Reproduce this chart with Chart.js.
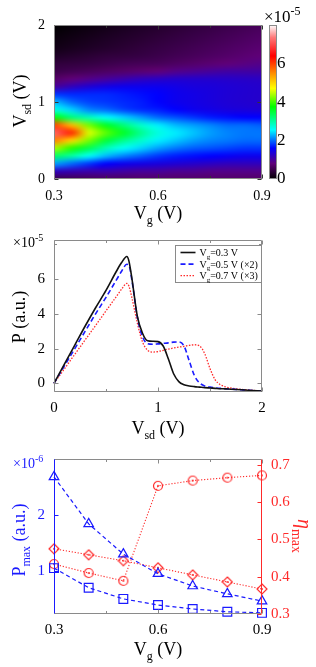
<!DOCTYPE html>
<html>
<head>
<meta charset="utf-8">
<script src="https://cdn.jsdelivr.net/npm/chart.js@4.4.1/dist/chart.umd.min.js"></script>
<style>
  body { margin: 0; background: #fff; }
  canvas { position: absolute; left: 0; }
</style>
</head>
<body>
<canvas id="c1" width="316" height="232" style="top:0"></canvas>
<canvas id="c2" width="316" height="225" style="top:222px"></canvas>
<canvas id="c3" width="316" height="230" style="top:437px"></canvas>
<script>
// ---------- panel 1: P map (x1e-5), one column per Vg, rows Vsd = 0..2 step 0.1
const mapVg = [0.3, 0.35, 0.4, 0.45, 0.5, 0.55, 0.6, 0.65, 0.7, 0.75, 0.8, 0.85, 0.9];
const mapVsd = [0, 0.1, 0.2, 0.3, 0.4, 0.5, 0.6, 0.7, 0.8, 0.9, 1.0, 1.1, 1.2, 1.3, 1.4, 1.5, 1.6, 1.7, 1.8, 1.9, 2.0];
const pVg030 = [0.5, 1.2, 2.2, 3.3, 4.4, 5.6, 7.2, 6.0, 3.8, 2.7, 2.3, 1.8, 1.0, 0.7, 0.5, 0.4, 0.25, 0.15, 0.1, 0.05, 0.0];
const pVg035 = [0.55, 1.15, 2.0, 3.0, 3.9, 5.0, 6.2, 5.2, 3.2, 2.4, 2.0, 1.75, 1.2, 0.8, 0.55, 0.42, 0.3, 0.2, 0.15, 0.1, 0.05];
const pVg040 = [0.6, 1.1, 1.8, 2.6, 3.4, 4.2, 4.6, 4.2, 2.9, 2.1, 1.85, 1.75, 1.35, 0.9, 0.6, 0.45, 0.35, 0.25, 0.2, 0.15, 0.1];
const pVg045 = [0.65, 1.1, 1.6, 2.3, 2.9, 3.5, 4.1, 3.6, 2.6, 2.0, 1.8, 1.75, 1.45, 1.0, 0.65, 0.5, 0.4, 0.3, 0.25, 0.2, 0.15];
const pVg050 = [0.65, 1.05, 1.5, 2.1, 2.6, 3.1, 3.6, 3.2, 2.4, 1.85, 1.75, 1.7, 1.5, 1.1, 0.7, 0.55, 0.42, 0.35, 0.3, 0.25, 0.2];
const pVg055 = [0.7, 1.0, 1.45, 1.95, 2.4, 2.8, 3.1, 2.8, 2.2, 1.75, 1.7, 1.65, 1.5, 1.2, 0.75, 0.58, 0.45, 0.4, 0.35, 0.3, 0.25];
const pVg060 = [0.7, 1.0, 1.4, 1.8, 2.2, 2.5, 2.7, 2.5, 2.0, 1.7, 1.6, 1.6, 1.5, 1.25, 0.8, 0.6, 0.5, 0.45, 0.4, 0.35, 0.3];
const pVg065 = [0.7, 0.95, 1.35, 1.7, 2.05, 2.35, 2.5, 2.3, 1.9, 1.6, 1.5, 1.5, 1.45, 1.3, 0.9, 0.65, 0.55, 0.5, 0.45, 0.4, 0.35];
const pVg070 = [0.7, 0.95, 1.3, 1.65, 1.95, 2.2, 2.35, 2.2, 1.8, 1.5, 1.45, 1.45, 1.4, 1.3, 0.95, 0.7, 0.6, 0.55, 0.5, 0.45, 0.4];
const pVg075 = [0.7, 0.9, 1.25, 1.6, 1.9, 2.1, 2.2, 2.1, 1.7, 1.45, 1.4, 1.4, 1.38, 1.3, 1.0, 0.75, 0.65, 0.6, 0.55, 0.5, 0.45];
const pVg080 = [0.7, 0.9, 1.2, 1.55, 1.85, 2.05, 2.1, 2.0, 1.65, 1.4, 1.35, 1.35, 1.35, 1.28, 1.05, 0.8, 0.7, 0.65, 0.6, 0.55, 0.5];
const pVg085 = [0.7, 0.9, 1.2, 1.5, 1.8, 2.0, 2.05, 2.0, 1.6, 1.38, 1.32, 1.32, 1.32, 1.26, 1.05, 0.85, 0.75, 0.7, 0.65, 0.6, 0.55];
const pVg090 = [0.7, 0.9, 1.2, 1.5, 1.8, 2.0, 2.05, 1.95, 1.6, 1.35, 1.3, 1.3, 1.3, 1.25, 1.05, 0.9, 0.8, 0.75, 0.7, 0.65, 0.6];
const mapCols = [pVg030, pVg035, pVg040, pVg045, pVg050, pVg055, pVg060, pVg065, pVg070, pVg075, pVg080, pVg085, pVg090];
const cbTicks = [0, 2, 4, 6];

// ---------- panel 2: P vs Vsd (x1e-5)
const vsd = [0, 0.1, 0.2, 0.3, 0.4, 0.5, 0.6, 0.65, 0.7, 0.72, 0.75, 0.8, 0.85, 0.9, 0.95, 1.0, 1.05, 1.1, 1.15, 1.2, 1.25, 1.3, 1.35, 1.4, 1.45, 1.5, 1.55, 1.6, 1.65, 1.7, 1.8, 1.9, 2.0];
const pVg03 = [0, 1.1, 2.2, 3.3, 4.35, 5.35, 6.45, 6.95, 7.3, 7.05, 6.0, 3.9, 2.9, 2.45, 2.42, 2.4, 2.15, 1.4, 0.55, 0.1, -0.08, -0.15, -0.19, -0.22, -0.25, -0.27, -0.29, -0.31, -0.32, -0.34, -0.37, -0.41, -0.45];
const pVg05x2 = [0, 1.0, 2.0, 3.0, 4.0, 4.95, 5.95, 6.45, 6.85, 6.8, 5.9, 3.85, 2.7, 2.28, 2.25, 2.27, 2.3, 2.33, 2.37, 2.38, 2.15, 1.3, 0.45, 0.02, -0.15, -0.22, -0.26, -0.29, -0.31, -0.33, -0.37, -0.41, -0.45];
const pVg07x3 = [0, 0.83, 1.67, 2.5, 3.33, 4.17, 5.0, 5.42, 5.75, 5.6, 4.9, 3.5, 2.4, 1.9, 1.8, 1.83, 1.9, 1.97, 2.03, 2.08, 2.13, 2.18, 2.22, 2.15, 1.7, 0.85, 0.2, -0.08, -0.2, -0.27, -0.35, -0.4, -0.45];
const curveLabels = ['V_{g}=0.3 V', 'V_{g}=0.5 V (\u00d72)', 'V_{g}=0.7 V (\u00d73)'];

// ---------- panel 3: maxima vs Vg
const vg = [0.3, 0.4, 0.5, 0.6, 0.7, 0.8, 0.9];
const pmaxTri = [2.68, 1.84, 1.30, 0.95, 0.73, 0.59, 0.46];   // x1e-6
const pmaxSq = [1.05, 0.70, 0.50, 0.39, 0.32, 0.27, 0.25];    // x1e-6
const etaCirc = [0.434, 0.41, 0.389, 0.644, 0.658, 0.666, 0.672];
const etaDia = [0.475, 0.459, 0.443, 0.424, 0.405, 0.386, 0.367];

const FONT = "'Liberation Serif', 'Times New Roman', serif";
const BLUE = '#1a1aff';
const RED = '#ff2a2a';
const GRAY = '#8a8a8a';
Chart.defaults.font.family = FONT;
Chart.defaults.color = '#000';
Chart.defaults.animation = false;

// colour map, roughly jet with a white top
const cmapStops = [
  [0, [0, 0, 0]], [0.1, [95, 0, 120]], [0.2, [0, 0, 255]], [0.32, [0, 255, 255]],
  [0.47, [0, 255, 0]], [0.59, [255, 255, 0]], [0.68, [255, 150, 0]], [0.8, [255, 0, 0]],
  [0.92, [255, 120, 120]], [1, [255, 255, 255]]
];
function cmap(f) {
  f = Math.max(0, Math.min(1, f));
  for (let i = 1; i < cmapStops.length; i++) {
    const [f1, c1] = cmapStops[i];
    if (f <= f1) {
      const [f0, c0] = cmapStops[i - 1];
      const t = (f - f0) / (f1 - f0);
      return c0.map((v, k) => Math.round(v + (c1[k] - v) * t));
    }
  }
  return [255, 255, 255];
}

// 'V_{sd} (V)' -> [[text, kind]], kind 0 normal, 1 sub, 2 sup
function rich(s) {
  const out = [];
  let last = 0;
  s.replace(/([_^])\{([^}]*)\}/g, (m, k, t, i) => {
    if (i > last) out.push([s.slice(last, i), 0]);
    out.push([t, k === '_' ? 1 : 2]);
    last = i + m.length;
  });
  if (last < s.length) out.push([s.slice(last), 0]);
  return out;
}
function richText(ctx, str, x, y, o) {
  const parts = rich(str);
  const size = o.size;
  const style = o.italic ? 'italic ' : '';
  const fonts = parts.map(p => (p[1] ? Math.round(size * 0.68) : size) + 'px ' + FONT);
  ctx.save();
  ctx.translate(x, y);
  if (o.rot) ctx.rotate(o.rot);
  ctx.fillStyle = o.color || '#000';
  ctx.textBaseline = 'alphabetic';
  let w = 0;
  parts.forEach((p, i) => { ctx.font = (i === 0 ? style : '') + fonts[i]; w += ctx.measureText(p[0]).width; });
  let cx = o.align === 'left' ? 0 : -w / 2;
  const base = size * 0.35;
  parts.forEach((p, i) => {
    ctx.font = (i === 0 ? style : '') + fonts[i];
    const dy = p[1] === 1 ? size * 0.28 : p[1] === 2 ? -size * 0.42 : 0;
    ctx.fillText(p[0], cx, base + dy);
    cx += ctx.measureText(p[0]).width;
  });
  ctx.restore();
}

const only = (vals, fmt) => v => vals.some(a => Math.abs(a - v) < 1e-6) ? fmt(v) : '';
const noGrid = { display: false, drawTicks: false };

// plugins
const texts = {
  id: 'texts',
  afterDraw(chart, args, o) {
    (o.items || []).forEach(t => richText(chart.ctx, t.text, t.x, t.y, t));
  }
};

const frame = {
  id: 'frame',
  afterDatasetsDraw(chart, args, o) {
    const { ctx, chartArea: a } = chart;
    const L = Math.round(a.left) + 0.5, R = Math.round(a.right) - 0.5;
    const T = Math.round(a.top) + 0.5, B = Math.round(a.bottom) - 0.5;
    ctx.save();
    ctx.lineWidth = 1;
    const line = (x1, y1, x2, y2, c) => {
      ctx.strokeStyle = c; ctx.beginPath(); ctx.moveTo(x1, y1); ctx.lineTo(x2, y2); ctx.stroke();
    };
    (o.marks || []).forEach(m => {
      const s = chart.scales[m.scale];
      s.ticks.forEach(t => {
        const len = t.label === '' ? 2.5 : 4;
        const p = Math.round(s.getPixelForValue(t.value)) + 0.5;
        m.sides.forEach(side => {
          if (side === 'bottom') line(p, B, p, B - len, m.color);
          if (side === 'top') line(p, T, p, T + len, m.color);
          if (side === 'left') line(L, p, L + len, p, m.color);
          if (side === 'right') line(R, p, R - len, p, m.color);
        });
      });
    });
    line(L, T, R, T, o.top || GRAY);
    line(L, B, R, B, o.bottom || GRAY);
    line(L, T, L, B, o.left || GRAY);
    line(R, T, R, B, o.right || GRAY);
    ctx.restore();
  }
};

const heat = {
  id: 'heat',
  beforeDatasetsDraw(chart) {
    const { ctx, chartArea: a, scales: { x, y, cb } } = chart;
    const nx = mapVg.length, ny = mapVsd.length;
    const off = document.createElement('canvas');
    off.width = nx; off.height = ny;
    const octx = off.getContext('2d');
    const img = octx.createImageData(nx, ny);
    mapCols.forEach((col, i) => col.forEach((v, j) => {
      const c = cmap(v / 8);
      const k = ((ny - 1 - j) * nx + i) * 4;
      img.data[k] = c[0]; img.data[k + 1] = c[1]; img.data[k + 2] = c[2]; img.data[k + 3] = 255;
    }));
    octx.putImageData(img, 0, 0);
    const hx = (mapVg[1] - mapVg[0]) / 2, hy = (mapVsd[1] - mapVsd[0]) / 2;
    const x0 = x.getPixelForValue(mapVg[0] - hx), x1 = x.getPixelForValue(mapVg[nx - 1] + hx);
    const y0 = y.getPixelForValue(mapVsd[ny - 1] + hy), y1 = y.getPixelForValue(mapVsd[0] - hy);
    ctx.save();
    ctx.beginPath(); ctx.rect(a.left, a.top, a.right - a.left, a.bottom - a.top); ctx.clip();
    ctx.imageSmoothingEnabled = true;
    ctx.imageSmoothingQuality = 'high';
    ctx.drawImage(off, x0, y0, x1 - x0, y1 - y0);
    ctx.restore();

    // colour bar
    const top = cb.getPixelForValue(cb.max), bot = cb.getPixelForValue(cb.min);
    const bx = a.right + 8, bw = 6;
    const g = ctx.createLinearGradient(0, bot, 0, top);
    cmapStops.forEach(([f, c]) => g.addColorStop(f, 'rgb(' + c.join(',') + ')'));
    ctx.save();
    ctx.fillStyle = g;
    ctx.fillRect(bx, top, bw, bot - top);
    ctx.strokeStyle = GRAY; ctx.lineWidth = 1;
    ctx.strokeRect(bx - 0.5, Math.round(top) + 0.5, bw + 1, Math.round(bot - top) - 1);
    ctx.restore();
  }
};

const keyBox = {
  id: 'keyBox',
  afterDraw(chart, args, o) {
    const { ctx, chartArea: a } = chart;
    const x0 = Math.round(a.right - o.w) + 0.5, y0 = Math.round(a.top + o.dy) + 0.5;
    ctx.save();
    ctx.fillStyle = '#fff';
    ctx.fillRect(x0, y0, o.w, o.h);
    ctx.strokeStyle = GRAY; ctx.lineWidth = 1;
    ctx.strokeRect(x0, y0, o.w - 1, o.h);
    chart.data.datasets.forEach((ds, i) => {
      const yy = y0 + o.pad + i * o.gap;
      ctx.strokeStyle = ds.borderColor; ctx.lineWidth = ds.borderWidth;
      ctx.setLineDash(ds.borderDash || []);
      ctx.beginPath(); ctx.moveTo(x0 + 5, yy); ctx.lineTo(x0 + 20, yy); ctx.stroke();
      ctx.setLineDash([]);
      richText(ctx, ds.label, x0 + 24, yy, { size: 10, align: 'left' });
    });
    ctx.restore();
  }
};

// ---------- chart 1
const mapPoints = [];
mapCols.forEach((col, i) => col.forEach((v, j) => mapPoints.push({ x: mapVg[i], y: mapVsd[j] })));

new Chart(document.getElementById('c1'), {
  type: 'scatter',
  data: { datasets: [{ data: mapPoints, pointRadius: 0 }] },
  plugins: [heat, frame, texts],
  options: {
    responsive: false,
    layout: { padding: { top: 24 } },
    plugins: {
      legend: { display: false },
      tooltip: { enabled: false },
      frame: { marks: [
        { scale: 'x', sides: ['bottom', 'top'], color: '#333' },
        { scale: 'y', sides: ['left', 'right'], color: '#333' }
      ] },
      texts: { items: [
        { text: 'V_{sd} (V)', x: 20, y: 101, size: 18, rot: -Math.PI / 2 },
        { text: 'V_{g} (V)', x: 158, y: 213, size: 18 },
        { text: '\u00d710^{-5}', x: 264, y: 16, size: 17, align: 'left' }
      ] }
    },
    scales: {
      x: {
        type: 'linear', min: 0.3, max: 0.9,
        afterFit: s => { s.height = 53; },
        grid: noGrid, border: { display: false },
        ticks: { stepSize: 0.15, padding: 9, maxRotation: 0, autoSkip: false, font: { size: 14 },
          callback: only([0.3, 0.6, 0.9], v => v.toFixed(1)) }
      },
      y: {
        min: 0, max: 2,
        afterFit: s => { s.width = 54; },
        grid: noGrid, border: { display: false },
        ticks: { stepSize: 1, padding: 9, font: { size: 14 }, callback: v => String(v) }
      },
      cb: {
        type: 'linear', position: 'right', min: 0, max: 8,
        afterFit: s => { s.width = 54; },
        grid: noGrid, border: { display: false },
        ticks: { stepSize: 2, padding: 15, font: { size: 17 }, callback: only(cbTicks, v => String(v)) }
      }
    }
  }
});

// ---------- chart 2
const mk = (ys) => vsd.map((x, i) => ({ x, y: ys[i] }));
new Chart(document.getElementById('c2'), {
  type: 'line',
  data: { datasets: [
    { label: curveLabels[0], data: mk(pVg03), borderColor: '#111', borderWidth: 1.6, pointRadius: 0, cubicInterpolationMode: 'monotone', clip: false },
    { label: curveLabels[1], data: mk(pVg05x2), borderColor: BLUE, borderWidth: 1.6, borderDash: [5, 3], pointRadius: 0, cubicInterpolationMode: 'monotone', clip: false },
    { label: curveLabels[2], data: mk(pVg07x3), borderColor: RED, borderWidth: 1.3, borderDash: [1.5, 1.5], pointRadius: 0, cubicInterpolationMode: 'monotone', clip: false }
  ] },
  plugins: [frame, keyBox, texts],
  options: {
    responsive: false,
    layout: { padding: { top: 11, right: 54 } },
    plugins: {
      legend: { display: false },
      tooltip: { enabled: false },
      keyBox: { w: 87, h: 37, dy: 5, pad: 7, gap: 11.6 },
      frame: { marks: [
        { scale: 'x', sides: ['bottom', 'top'], color: GRAY },
        { scale: 'y', sides: ['left', 'right'], color: GRAY }
      ] },
      texts: { items: [
        { text: 'P (a.u.)', x: 19, y: 95, size: 18, rot: -Math.PI / 2 },
        { text: 'V_{sd} (V)', x: 158, y: 206, size: 18 },
        { text: '\u00d710^{-5}', x: 13, y: 20, size: 14, align: 'left' }
      ] }
    },
    scales: {
      x: {
        type: 'linear', min: 0, max: 2,
        afterFit: s => { s.height = 55; },
        grid: noGrid, border: { display: false },
        ticks: { stepSize: 0.5, padding: 7, maxRotation: 0, autoSkip: false, font: { size: 15 },
          callback: only([0, 1, 2], v => String(v)) }
      },
      y: {
        min: -0.5, max: 8.25,
        afterFit: s => { s.width = 54; },
        grid: noGrid, border: { display: false },
        ticks: { stepSize: 1, includeBounds: false, padding: 9, font: { size: 15 },
          callback: only([0, 2, 4, 6], v => String(v)) }
      }
    }
  }
});

// ---------- chart 3
function ringMark(shape, color) {
  const c = document.createElement('canvas');
  c.width = c.height = 12;
  const g = c.getContext('2d');
  g.strokeStyle = color; g.fillStyle = color; g.lineWidth = 1.2;
  g.beginPath();
  if (shape === 'circle') g.arc(6, 6, 4.5, 0, Math.PI * 2);
  else { g.moveTo(6, 1); g.lineTo(11, 6); g.lineTo(6, 11); g.lineTo(1, 6); g.closePath(); }
  g.stroke();
  g.beginPath(); g.arc(6, 6, 1, 0, Math.PI * 2); g.fill();
  return c;
}
const pts = (ys) => vg.map((x, i) => ({ x, y: ys[i] }));
new Chart(document.getElementById('c3'), {
  type: 'line',
  data: { datasets: [
    { label: 'Pmax 1', data: pts(pmaxTri), yAxisID: 'y', borderColor: BLUE, borderWidth: 1.2, borderDash: [4, 3],
      pointStyle: 'triangle', pointRadius: 5.5, pointBorderColor: BLUE, pointBackgroundColor: 'rgba(0,0,0,0)', pointBorderWidth: 1.2, clip: false },
    { label: 'Pmax 2', data: pts(pmaxSq), yAxisID: 'y', borderColor: BLUE, borderWidth: 1.2, borderDash: [4, 3],
      pointStyle: 'rect', pointRadius: 6.2, pointBorderColor: BLUE, pointBackgroundColor: 'rgba(0,0,0,0)', pointBorderWidth: 1.2, clip: false },
    { label: 'eta 1', data: pts(etaCirc), yAxisID: 'y1', borderColor: RED, borderWidth: 1.1, borderDash: [1.2, 1.8],
      pointStyle: ringMark('circle', RED), clip: false },
    { label: 'eta 2', data: pts(etaDia), yAxisID: 'y1', borderColor: RED, borderWidth: 1.1, borderDash: [1.2, 1.8],
      pointStyle: ringMark('diamond', RED), clip: false }
  ] },
  plugins: [frame, texts],
  options: {
    responsive: false,
    layout: { padding: { top: 22 } },
    plugins: {
      legend: { display: false },
      tooltip: { enabled: false },
      frame: { left: BLUE, right: RED, marks: [
        { scale: 'x', sides: ['bottom', 'top'], color: GRAY },
        { scale: 'y', sides: ['left'], color: BLUE },
        { scale: 'y1', sides: ['right'], color: RED }
      ] },
      texts: { items: [
        { text: 'P_{max} (a.u.)', x: 19, y: 103, size: 18, rot: -Math.PI / 2, color: BLUE },
        { text: '\u03b7_{max}', x: 305, y: 99, size: 20, rot: Math.PI / 2, color: RED, italic: true },
        { text: 'V_{g} (V)', x: 158, y: 212, size: 18 },
        { text: '\u00d710^{-6}', x: 13, y: 26, size: 14, align: 'left', color: BLUE }
      ] }
    },
    scales: {
      x: {
        type: 'linear', min: 0.3, max: 0.9,
        afterFit: s => { s.height = 53; },
        grid: noGrid, border: { display: false },
        ticks: { stepSize: 0.15, padding: 7, maxRotation: 0, autoSkip: false, font: { size: 15 },
          callback: only([0.3, 0.6, 0.9], v => v.toFixed(1)) }
      },
      y: {
        position: 'left', min: 0.23, max: 3.0,
        afterFit: s => { s.width = 54; },
        grid: noGrid, border: { display: false },
        ticks: { stepSize: 1, includeBounds: false, padding: 9, color: BLUE, font: { size: 15 },
          callback: only([1, 2], v => String(v)) }
      },
      y1: {
        position: 'right', min: 0.3, max: 0.716,
        afterFit: s => { s.width = 54; },
        grid: noGrid, border: { display: false },
        ticks: { stepSize: 0.1, includeBounds: false, padding: 9, color: RED, font: { size: 15 },
          callback: v => v.toFixed(1) }
      }
    }
  }
});
</script>
</body>
</html>
